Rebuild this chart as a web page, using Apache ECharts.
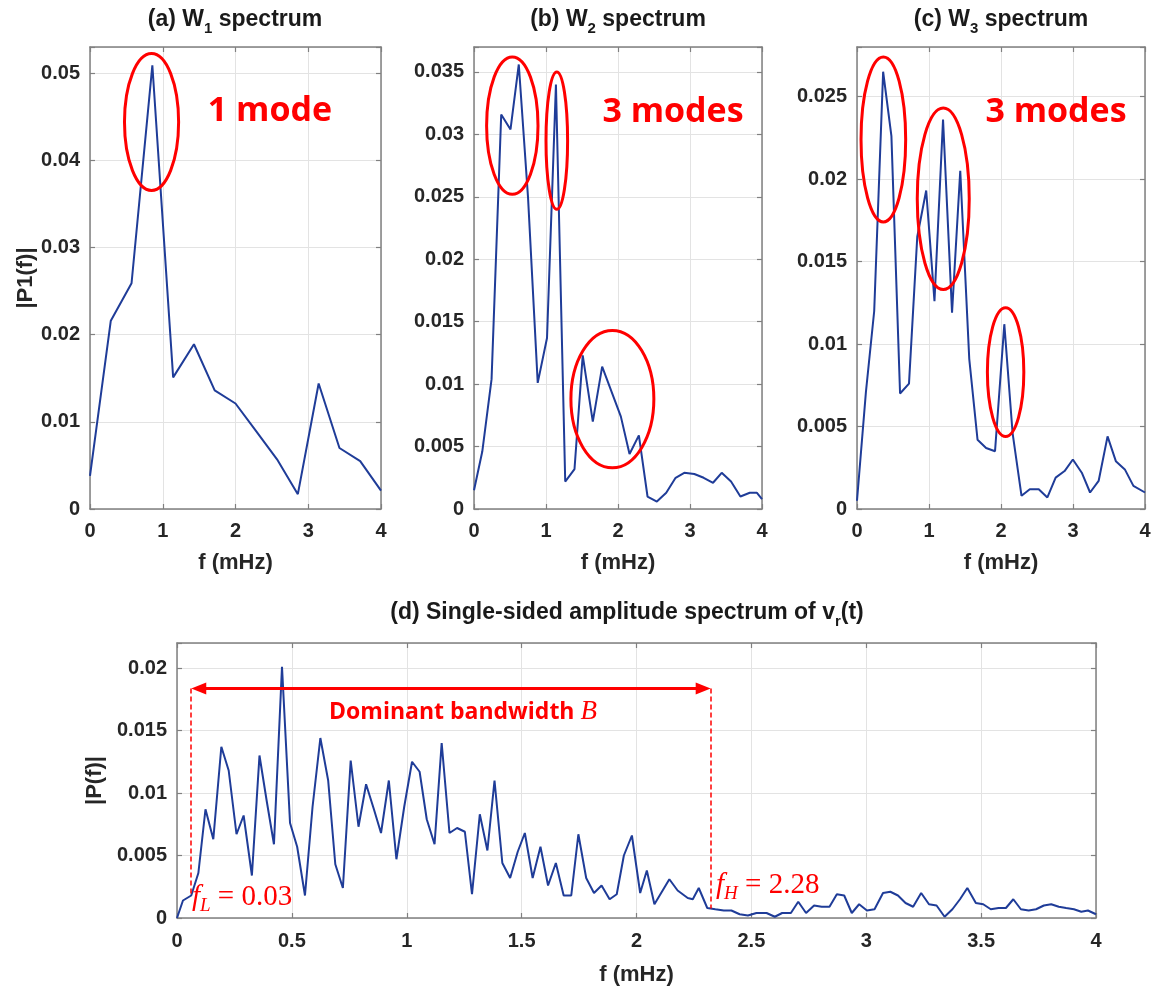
<!DOCTYPE html>
<html>
<head>
<meta charset="utf-8">
<title>W spectra</title>
<script src="https://cdn.jsdelivr.net/npm/echarts@6/dist/echarts.min.js"></script>
<style>
  html, body { margin: 0; padding: 0; background: #fff; }
  #chart { width: 1158px; height: 992px; }
</style>
</head>
<body>
<div id="chart"></div>
<script>
// (a) W1 spectrum
const freqA = [0, 0.286, 0.571, 0.857, 1.143, 1.429, 1.714, 2.0, 2.286, 2.571, 2.857, 3.143, 3.429, 3.714, 4.0]
const ampA = [0.0038, 0.0216, 0.0259, 0.0509, 0.0151, 0.0189, 0.0136, 0.0121, 0.0089, 0.0057, 0.0017, 0.0144, 0.0070, 0.0055, 0.0021]

// (b) W2 spectrum
const freqB = [0, 0.115, 0.244, 0.378, 0.507, 0.622, 0.75, 0.885, 1.014, 1.138, 1.267, 1.396, 1.51, 1.65, 1.78, 1.91,
  2.04, 2.16, 2.29, 2.41, 2.54, 2.67, 2.80, 2.92, 3.06, 3.19, 3.32, 3.44, 3.57, 3.70, 3.83, 3.93, 4.0]
const ampB = [0.0015, 0.0046, 0.0104, 0.0316, 0.0304, 0.0356, 0.0250, 0.0101, 0.0137, 0.0340, 0.0022, 0.0032, 0.0123, 0.0070, 0.0114, 0.0094,
  0.0074, 0.0044, 0.0059, 0.0010, 0.0006, 0.0013, 0.0025, 0.0029, 0.0028, 0.0025, 0.0021, 0.0029, 0.0022, 0.0010, 0.0013, 0.0013, 0.0008]

// (c) W3 spectrum
const freqC = [0, 0.124, 0.239, 0.363, 0.478, 0.598, 0.722, 0.837, 0.961, 1.076, 1.195, 1.32, 1.434, 1.559, 1.674, 1.793, 1.917,
  2.046, 2.161, 2.285, 2.40, 2.524, 2.644, 2.759, 2.883, 2.998, 3.122, 3.237, 3.356, 3.48, 3.595, 3.72, 3.839, 4.0]
const ampC = [0.0005, 0.0071, 0.0120, 0.0265, 0.0226, 0.0070, 0.0076, 0.0165, 0.0193, 0.0126, 0.0236, 0.0119, 0.0205, 0.0091, 0.0042, 0.0037, 0.0035,
  0.0112, 0.0046, 0.0008, 0.0012, 0.0012, 0.0007, 0.0019, 0.0023, 0.0030, 0.0022, 0.0010, 0.0017, 0.0044, 0.0029, 0.0024, 0.0014, 0.0010]

// (d) single-sided amplitude spectrum of v_r(t)
const freqD = [0, 0.026, 0.062, 0.093, 0.124, 0.158, 0.193, 0.225, 0.259, 0.290, 0.326, 0.359, 0.391, 0.422, 0.457, 0.492,
  0.523, 0.557, 0.590, 0.624, 0.658, 0.689, 0.722, 0.756, 0.790, 0.823, 0.857, 0.888, 0.922, 0.955, 0.989,
  1.023, 1.056, 1.087, 1.121, 1.152, 1.186, 1.219, 1.253, 1.284, 1.318, 1.351, 1.382, 1.416, 1.450, 1.483,
  1.514, 1.548, 1.582, 1.615, 1.649, 1.683, 1.716, 1.747, 1.781, 1.815, 1.848, 1.883, 1.914, 1.945, 1.980,
  2.016, 2.045, 2.078, 2.143, 2.179, 2.223, 2.245, 2.271, 2.308, 2.343, 2.380, 2.413, 2.449, 2.485,
  2.522, 2.566, 2.602, 2.634, 2.672, 2.704, 2.738, 2.773, 2.806, 2.840, 2.872, 2.904, 2.937, 2.969,
  3.003, 3.036, 3.073, 3.105, 3.138, 3.171, 3.204, 3.239, 3.273, 3.306, 3.341, 3.375, 3.408, 3.440, 3.477,
  3.509, 3.542, 3.576, 3.608, 3.640, 3.673, 3.707, 3.739, 3.773, 3.805, 3.838, 3.870, 3.904, 3.936, 3.965, 4.0]
const ampD = [0, 0.0014, 0.0018, 0.0036, 0.0087, 0.0063, 0.0137, 0.0118, 0.0067, 0.0082, 0.0034, 0.0130, 0.0093, 0.0059, 0.0201, 0.0076,
  0.0057, 0.0018, 0.0089, 0.0144, 0.0110, 0.0043, 0.0024, 0.0126, 0.0073, 0.0107, 0.0087, 0.0068, 0.0110, 0.0047, 0.0089,
  0.0125, 0.0117, 0.0079, 0.0059, 0.0140, 0.0068, 0.0072, 0.0069, 0.0019, 0.0083, 0.0054, 0.0110, 0.0044, 0.0032, 0.0053,
  0.0068, 0.0032, 0.0057, 0.0026, 0.0044, 0.0018, 0.0018, 0.0067, 0.0032, 0.0020, 0.0026, 0.0015, 0.0019, 0.0050, 0.0066,
  0.0020, 0.0038, 0.0011, 0.0031, 0.0022, 0.0016, 0.0015, 0.0024, 0.0008, 0.0007, 0.0006, 0.0006, 0.0003, 0.0002,
  0.0004, 0.0004, 0.0001, 0.0004, 0.0004, 0.0013, 0.0004, 0.0010, 0.0009, 0.0009, 0.0019, 0.0018, 0.0004, 0.0011,
  0.0006, 0.0007, 0.0020, 0.0021, 0.0018, 0.0012, 0.0009, 0.0020, 0.0011, 0.0010, 0.0001, 0.0007, 0.0015, 0.0024, 0.0012,
  0.0011, 0.0007, 0.0008, 0.0008, 0.0015, 0.0007, 0.0006, 0.0007, 0.0010, 0.0011, 0.0009, 0.0008, 0.0007, 0.0005, 0.0006, 0.0003]

// tick labels
const xTicksABC = [0, 1, 2, 3, 4]
const yTicksA = [0, 0.01, 0.02, 0.03, 0.04, 0.05]
const yTicksB = [0, 0.005, 0.01, 0.015, 0.02, 0.025, 0.03, 0.035]
const yTicksC = [0, 0.005, 0.01, 0.015, 0.02, 0.025]
const xTicksD = [0, 0.5, 1, 1.5, 2, 2.5, 3, 3.5, 4]
const yTicksD = [0, 0.005, 0.01, 0.015, 0.02]

// bandwidth annotation in (d): arrow ends and arrow height
const bandEdges = [0.062, 2.323]
const bandArrowY = 0.01837

// red ellipses: [panel, cx, cy, rx, ry] in data units
const modeEllipses = [
  [0, 0.846, 0.0444, 0.372, 0.00785],
  [1, 0.532, 0.0307, 0.357, 0.0055],
  [1, 1.150, 0.0295, 0.150, 0.0055],
  [1, 1.922, 0.0088, 0.576, 0.0055],
  [2, 0.366, 0.0224, 0.310, 0.0050],
  [2, 1.198, 0.0188, 0.361, 0.0055],
  [2, 2.064, 0.0083, 0.253, 0.0039]
]

const BLUE = '#1f3c98'
const RED = '#ff0000'
const BOX = '#808080'
const INK = '#262626'
const SANS = '"Liberation Sans", Arial, sans-serif'
const SERIF = '"Liberation Serif", "DejaVu Serif", serif'
const FUN = '"Open Sans", "Noto Sans", sans-serif'

const panels = [
  { grid: { left: 90, top: 47, width: 291, height: 462 }, freq: freqA, amp: ampA, xTicks: xTicksABC, xMax: 4,
    yTicks: yTicksA, yMax: 0.053, yName: '|P1(f)|', yNameGap: 53, xNameGap: 43, xMargin: 12 },
  { grid: { left: 474, top: 47, width: 288, height: 462 }, freq: freqB, amp: ampB, xTicks: xTicksABC, xMax: 4,
    yTicks: yTicksB, yMax: 0.037, yName: '', yNameGap: 50, xNameGap: 43, xMargin: 12 },
  { grid: { left: 857, top: 47, width: 288, height: 462 }, freq: freqC, amp: ampC, xTicks: xTicksABC, xMax: 4,
    yTicks: yTicksC, yMax: 0.028, yName: '', yNameGap: 50, xNameGap: 43, xMargin: 12 },
  { grid: { left: 177, top: 643, width: 919, height: 275 }, freq: freqD, amp: ampD, xTicks: xTicksD, xMax: 4,
    yTicks: yTicksD, yMax: 0.022, yName: '|P(f)|', yNameGap: 68, xNameGap: 46, xMargin: 13 }
]

function tickFormatter(ticks) {
  return (v) => {
    const t = ticks.find(t => Math.abs(t - v) < 1e-9)
    return t === undefined ? '' : String(t)
  }
}

function makeAxis(gi, ticks, max, position, main, name, nameGap, margin) {
  return {
    type: 'value',
    gridIndex: gi,
    position: position,
    min: ticks[0],
    max: max,
    interval: ticks[1] - ticks[0],
    name: main ? name : '',
    nameLocation: 'middle',
    nameGap: nameGap,
    nameTextStyle: { fontFamily: SANS, fontWeight: 'bold', fontSize: 22, color: INK },
    axisLine: { show: true, onZero: false, lineStyle: { color: BOX, width: 1.5 } },
    axisTick: { show: true, inside: true, length: 5, lineStyle: { color: BOX, width: 1.2 } },
    axisLabel: {
      show: main, margin: margin, fontFamily: SANS, fontWeight: 'bold', fontSize: 20, color: INK,
      showMinLabel: true, showMaxLabel: true, hideOverlap: false, formatter: tickFormatter(ticks)
    },
    splitLine: { show: main, lineStyle: { color: '#e3e3e3', width: 1 } }
  }
}

const xAxes = []
const yAxes = []
const series = []
panels.forEach((p, i) => {
  xAxes.push(makeAxis(i, p.xTicks, p.xMax, 'bottom', true, 'f (mHz)', p.xNameGap, p.xMargin))
  xAxes.push(makeAxis(i, p.xTicks, p.xMax, 'top', false, '', 0, 0))
  yAxes.push(makeAxis(i, p.yTicks, p.yMax, 'left', true, p.yName, p.yNameGap, 10))
  yAxes.push(makeAxis(i, p.yTicks, p.yMax, 'right', false, '', 0, 0))
  series.push({
    type: 'line',
    xAxisIndex: 2 * i,
    yAxisIndex: 2 * i,
    data: p.freq.map((f, k) => [f, p.amp[k]]),
    symbol: 'none',
    lineStyle: { color: BLUE, width: 2 },
    z: 3
  })
})

// value of the (d) curve at a frequency, read from the data through linear lookup
function ampAt(f) {
  for (let k = 1; k < freqD.length; k++) {
    if (freqD[k] >= f) {
      const t = (f - freqD[k - 1]) / (freqD[k] - freqD[k - 1])
      return ampD[k - 1] + t * (ampD[k] - ampD[k - 1])
    }
  }
  return ampD[ampD.length - 1]
}

// arrow heads are centred on the line ends, so pull the ends in by half a head
const headLen = 15
const inset = (headLen / 2) * panels[3].xMax / panels[3].grid.width

series[3].markLine = {
  silent: true,
  label: { show: false },
  data: [
    [
      { coord: [bandEdges[0] + inset, bandArrowY], symbol: 'triangle', symbolSize: [12, headLen], lineStyle: { color: RED, width: 3, type: 'solid' } },
      { coord: [bandEdges[1] - inset, bandArrowY], symbol: 'triangle', symbolSize: [12, headLen] }
    ],
    [
      { coord: [bandEdges[0], bandArrowY], symbol: 'none', lineStyle: { color: RED, width: 1.5, type: [5, 3] } },
      { coord: [bandEdges[0], ampAt(bandEdges[0])], symbol: 'none' }
    ],
    [
      { coord: [bandEdges[1], bandArrowY], symbol: 'none', lineStyle: { color: RED, width: 1.5, type: [5, 3] } },
      { coord: [bandEdges[1], ampAt(bandEdges[1])], symbol: 'none' }
    ]
  ]
}

function titleText(x, y, text) {
  return {
    type: 'text', x: x, y: y, z: 10,
    style: {
      text: text, textAlign: 'center', textVerticalAlign: 'middle',
      fontFamily: SANS, fontWeight: 'bold', fontSize: 23, lineHeight: 32, fill: '#1a1a1a',
      rich: { s: { fontFamily: SANS, fontWeight: 'bold', fontSize: 15, lineHeight: 15, verticalAlign: 'bottom', fill: '#1a1a1a' } }
    }
  }
}

function modeText(x, y, text) {
  return {
    type: 'text', x: x, y: y, z: 10,
    style: { text: text, textAlign: 'center', textVerticalAlign: 'middle', fontFamily: FUN, fontWeight: 'bold', fontSize: 34, fill: RED }
  }
}

function mathText(x, y, sym, sub, rest) {
  return {
    type: 'text', x: x, y: y, z: 10,
    style: {
      text: `{i|${sym}}{s|${sub}}{n| = ${rest}}`, textAlign: 'left', textVerticalAlign: 'middle', lineHeight: 36, fill: RED,
      rich: {
        i: { fontFamily: SERIF, fontStyle: 'italic', fontSize: 29, fill: RED },
        s: { fontFamily: SERIF, fontStyle: 'italic', fontSize: 19, lineHeight: 19, verticalAlign: 'bottom', fill: RED },
        n: { fontFamily: SERIF, fontSize: 29, fill: RED }
      }
    }
  }
}

const graphics = [
  titleText(235, 20, '(a) W{s|1} spectrum'),
  titleText(618, 20, '(b) W{s|2} spectrum'),
  titleText(1001, 20, '(c) W{s|3} spectrum'),
  titleText(627, 613, '(d) Single-sided amplitude spectrum of v{s|r}(t)'),
  modeText(270, 111, '1 mode'),
  modeText(673, 112, '3 modes'),
  modeText(1056, 112, '3 modes'),
  {
    type: 'text', x: 463, y: 712, z: 10,
    style: {
      text: '{b|Dominant bandwidth }{i|B}', textAlign: 'center', textVerticalAlign: 'middle', fill: RED,
      rich: {
        b: { fontFamily: FUN, fontWeight: 'bold', fontSize: 23, fill: RED },
        i: { fontFamily: SERIF, fontStyle: 'italic', fontSize: 27, fill: RED }
      }
    }
  },
  mathText(192, 897, 'f', 'L', '0.03'),
  mathText(716, 885, 'f', 'H', '2.28')
]

const chart = echarts.init(document.getElementById('chart'), null, { renderer: 'canvas' })
chart.setOption({
  animation: false,
  backgroundColor: '#ffffff',
  grid: panels.map(p => Object.assign({ containLabel: false }, p.grid)),
  xAxis: xAxes,
  yAxis: yAxes,
  series: series,
  graphic: graphics
})

// ellipses placed through the axes' own scales
const ellipses = modeEllipses.map(([pi, cx, cy, rx, ry]) => {
  const c = chart.convertToPixel({ seriesIndex: pi }, [cx, cy])
  const e = chart.convertToPixel({ seriesIndex: pi }, [cx + rx, cy + ry])
  return {
    type: 'ellipse', z: 9,
    shape: { cx: c[0], cy: c[1], rx: Math.abs(e[0] - c[0]), ry: Math.abs(c[1] - e[1]) },
    style: { fill: 'none', stroke: RED, lineWidth: 3 }
  }
})
chart.setOption({ graphic: graphics.concat(ellipses) })
</script>
</body>
</html>
